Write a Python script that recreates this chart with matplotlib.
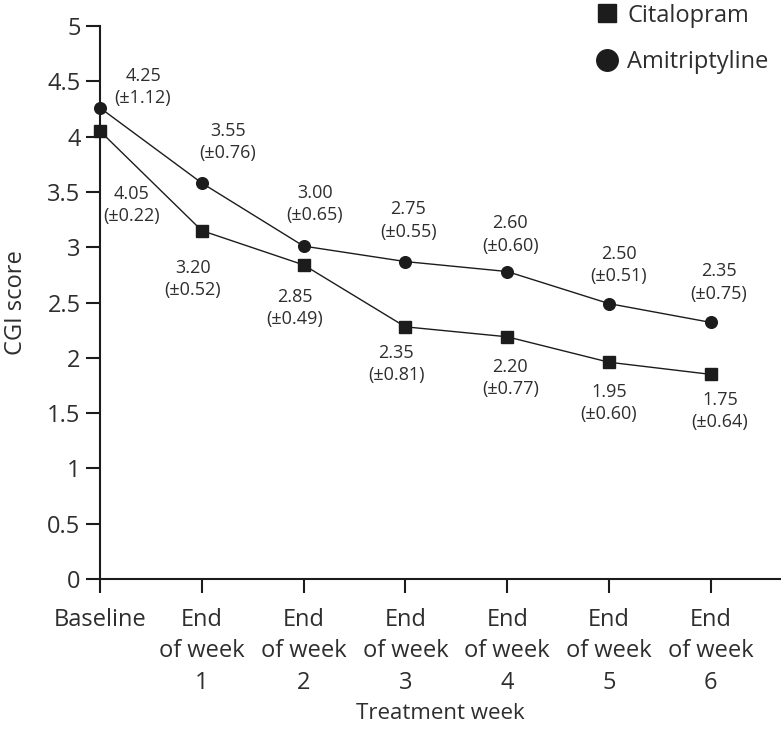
import matplotlib.pyplot as plt
from matplotlib.lines import Line2D
import numpy as np

plt.rcParams['font.family'] = ['Open Sans', 'DejaVu Sans']

# categories
weeks = ['Baseline', 'End\nof week\n1', 'End\nof week\n2', 'End\nof week\n3',
         'End\nof week\n4', 'End\nof week\n5', 'End\nof week\n6']

# plotted positions
cit = [4.05, 3.15, 2.84, 2.28, 2.19, 1.96, 1.85]
ami = [4.26, 3.58, 3.01, 2.87, 2.78, 2.49, 2.32]

# printed means and SDs
cit_mean = ['4.05', '3.20', '2.85', '2.35', '2.20', '1.95', '1.75']
cit_sd = ['0.22', '0.52', '0.49', '0.81', '0.77', '0.60', '0.64']
ami_mean = ['4.25', '3.55', '3.00', '2.75', '2.60', '2.50', '2.35']
ami_sd = ['1.12', '0.76', '0.65', '0.55', '0.60', '0.51', '0.75']

# label offsets in pixels (style only)
ami_off = [(43, 21), (26, 41), (11, 42), (3, 41), (3, 37), (10, 39), (8, 40)]
cit_off = [(32, -74), (-9, -48), (-9, -43), (-9, -37), (3, -41), (0, -41), (9, -37)]

dark = '#1c1c1c'
txt = '#2e2e2e'

fig = plt.figure(figsize=(7.81, 7.29), dpi=100)
ax = fig.add_axes([100/781, 1-579/729, 681/781, 553/729])

x = np.arange(len(weeks))
ax.plot(x, ami, '-o', color=dark, lw=1.0, ms=8.4, clip_on=False, zorder=3)
ax.plot(x, cit, '-s', color=dark, lw=1.0, ms=9.0, clip_on=False, zorder=3)

for i in range(len(weeks)):
    ax.annotate(ami_mean[i] + '\n(±' + ami_sd[i] + ')', (x[i], ami[i]),
                xytext=ami_off[i], textcoords='offset pixels',
                ha='center', va='center', fontsize=13, color=txt, linespacing=1.3)
    ax.annotate(cit_mean[i] + '\n(±' + cit_sd[i] + ')', (x[i], cit[i]),
                xytext=cit_off[i], textcoords='offset pixels',
                ha='center', va='center', fontsize=13, color=txt, linespacing=1.3)

ax.set_xlim(0, 681/101.8)
ax.set_ylim(0, 5)
ax.set_xticks(x)
ax.set_xticklabels(weeks, linespacing=1.4, va='top')
ax.set_yticks(np.arange(0, 5.01, 0.5))
ax.set_yticklabels(['0', '0.5', '1', '1.5', '2', '2.5', '3', '3.5', '4', '4.5', '5'])

for s in ['top', 'right']:
    ax.spines[s].set_visible(False)
for s in ['left', 'bottom']:
    ax.spines[s].set_linewidth(1.5)
    ax.spines[s].set_color(dark)
ax.tick_params(axis='both', length=10, width=1.5, color=dark,
               labelsize=17, labelcolor=txt, direction='out')
ax.tick_params(axis='x', pad=11)
ax.tick_params(axis='y', pad=4)

ax.set_ylabel('CGI score', fontsize=17, color=txt)
ax.yaxis.set_label_coords(-0.106, 0.5)
ax.set_xlabel('Treatment week', fontsize=16, color=txt)
ax.xaxis.set_label_coords(0.5, -0.224)

handles = [Line2D([], [], ls='none', marker='s', ms=13.5, color=dark),
           Line2D([], [], ls='none', marker='o', ms=15.5, color=dark)]
fig.legend(handles, ['Citalopram', 'Amitriptyline'], loc='upper right',
           bbox_to_anchor=(772/781, 1.0), frameon=False, fontsize=17,
           labelcolor=txt, handlelength=1.0, handletextpad=0.35,
           labelspacing=0.95, borderaxespad=0, borderpad=0.15)

plt.savefig('out.png', dpi=100)
